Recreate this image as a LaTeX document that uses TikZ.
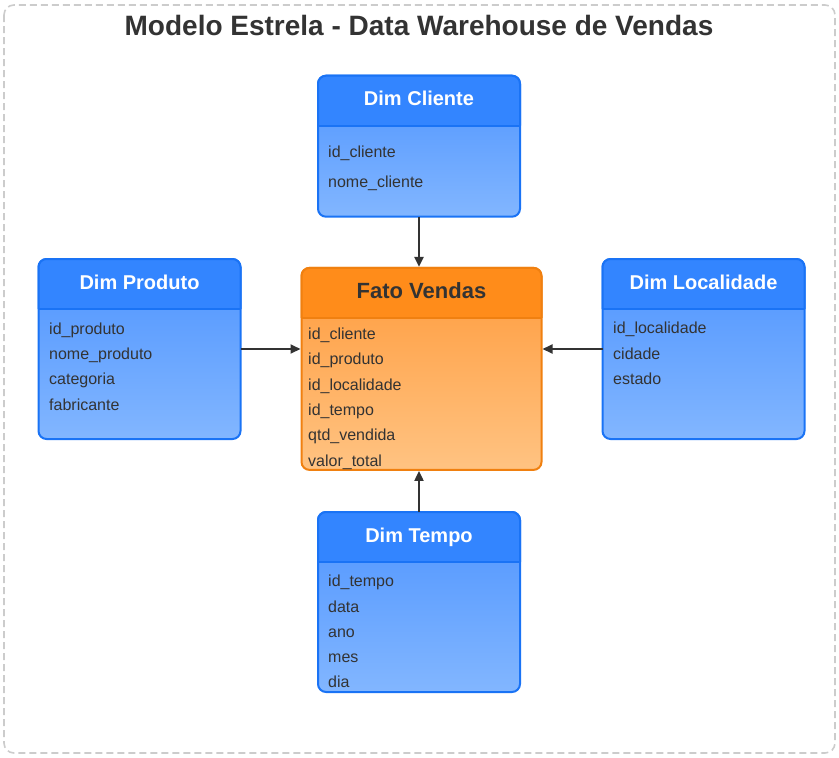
\documentclass[tikz,border=0pt]{standalone}
\usepackage{fontspec}
\setmainfont{Liberation Sans}
\usepackage{tikz}
\usetikzlibrary{arrows.meta,positioning}
\usepackage{xcolor}
\definecolor{dimhead}{RGB}{51,133,255}
\definecolor{dimline}{RGB}{26,115,245}
\definecolor{dimtop}{RGB}{78,148,255}
\definecolor{dimbottom}{RGB}{130,182,255}
\definecolor{fatohead}{RGB}{255,140,26}
\definecolor{fatoline}{RGB}{240,128,16}
\definecolor{fatotop}{RGB}{255,155,60}
\definecolor{fatobottom}{RGB}{255,195,130}
\definecolor{ink}{RGB}{51,51,51}
\definecolor{frame}{RGB}{204,204,204}

\begin{document}
\begin{tikzpicture}[x=1pt, y=-1pt,
        dimbox/.style={rectangle, draw=dimline, line width=2pt, rounded corners=8pt, outer sep=0pt,
                       top color=dimtop, bottom color=dimbottom, minimum width=202pt, inner sep=0pt},
        fatobox/.style={dimbox, draw=fatoline, top color=fatotop, bottom color=fatobottom, minimum width=240pt},
        dimtitle/.style={anchor=base, text=white, font=\fontsize{20}{24}\selectfont\bfseries},
        fatotitle/.style={anchor=base, text=ink, font=\fontsize{22}{26}\selectfont\bfseries},
        field/.style={anchor=base west, inner sep=0pt, text=ink, font=\fontsize{16}{19}\selectfont},
        link/.style={-{Triangle[length=10pt, width=9pt]}, line width=2pt, ink, shorten >=1pt}
      ]
        \useasboundingbox (0,0) rectangle (839,758);
        \draw[frame, line width=1.6pt, dash pattern=on 7pt off 4pt, rounded corners=10pt] (4,5) rectangle (835,753);
        \node[anchor=base, text=ink, font=\fontsize{28}{32}\selectfont\bfseries] (title) at (419,35)
          {Modelo Estrela - Data Warehouse de Vendas};

        % tabelas
        \node[dimbox, minimum height=141pt] (cliente) at (419,146.2) {};
        \node[dimbox, minimum height=180pt] (produto) at (139.5,349) {};
        \node[dimbox, minimum height=180pt] (localidade) at (703.5,349) {};
        \node[dimbox, minimum height=180pt] (tempo) at (419,602) {};
        \node[fatobox, minimum height=202pt] (fato) at (421.5,368.9) {};

        % cabecalhos
        \foreach \t in {cliente,produto,localidade,tempo} {
          \draw[fill=dimhead, draw=dimline, line width=2pt, rounded corners=8pt]
            ([yshift=-50pt]\t.north west) -- (\t.north west) -- (\t.north east) -- ([yshift=-50pt]\t.north east);
          \draw[dimline, line width=2pt] ([yshift=-50pt]\t.north west) -- ([yshift=-50pt]\t.north east);
        }
        \draw[fill=fatohead, draw=fatoline, line width=2pt, rounded corners=8pt]
          ([yshift=-50pt]fato.north west) -- (fato.north west) -- (fato.north east) -- ([yshift=-50pt]fato.north east);
        \draw[fatoline, line width=2pt] ([yshift=-50pt]fato.north west) -- ([yshift=-50pt]fato.north east);

        \node[dimtitle] (cliente-t) at ([yshift=-30pt]cliente.north) {Dim Cliente};
        \node[dimtitle] (produto-t) at ([yshift=-30pt]produto.north) {Dim Produto};
        \node[dimtitle] (localidade-t) at ([yshift=-30pt]localidade.north) {Dim Localidade};
        \node[dimtitle] (tempo-t) at ([yshift=-30pt]tempo.north) {Dim Tempo};
        \node[fatotitle] (fato-t) at ([yshift=-31pt]fato.north) {Fato Vendas};

        % campos
        \node[field] (cl1) at (328,157) {id\_cliente};
        \node[field] (cl2) at (328,187) {nome\_cliente};

        \node[field] (pr1) at (49,334) {id\_produto};
        \node[field] (pr2) at (49,359.4) {nome\_produto};
        \node[field] (pr3) at (49,384.8) {categoria};
        \node[field] (pr4) at (49,410.2) {fabricante};

        \node[field] (lo1) at (613,333.6) {id\_localidade};
        \node[field] (lo2) at (613,359) {cidade};
        \node[field] (lo3) at (613,384.4) {estado};

        \node[field] (tp1) at (328,586.7) {id\_tempo};
        \node[field] (tp2) at (328,612) {data};
        \node[field] (tp3) at (328,637.3) {ano};
        \node[field] (tp4) at (328,662.6) {mes};
        \node[field] (tp5) at (328,687.9) {dia};

        \node[field] (fv1) at (308,339.3) {id\_cliente};
        \node[field] (fv2) at (308,364.7) {id\_produto};
        \node[field] (fv3) at (308,390.1) {id\_localidade};
        \node[field] (fv4) at (308,415.5) {id\_tempo};
        \node[field] (fv5) at (308,440.9) {qtd\_vendida};
        \node[field] (fv6) at (308,466.3) {valor\_total};

        % ligacoes
        \draw[link] (cliente.south) -- (cliente.south |- fato.north);
        \draw[link] (produto.east) -- (produto.east -| fato.west);
        \draw[link] (localidade.west) -- (localidade.west -| fato.east);
        \draw[link] (tempo.north) -- (tempo.north |- fato.south);
      \end{tikzpicture}
\end{document}
